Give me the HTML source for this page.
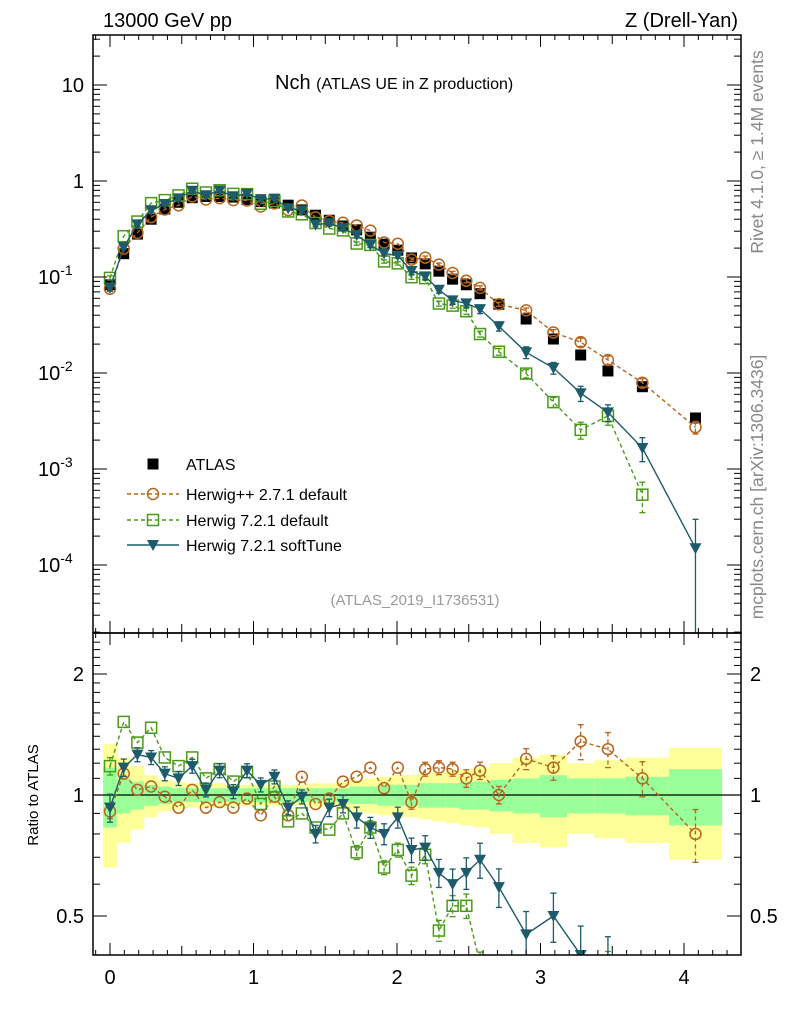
<!DOCTYPE html>
<html><head><meta charset="utf-8"><style>
html,body{margin:0;padding:0;background:#fff;overflow:hidden;width:786px;height:1024px;}
svg{display:block;}
svg text{font-family:"Liberation Sans",sans-serif;}
</style></head><body>
<svg id="c" width="786" height="1024" xmlns="http://www.w3.org/2000/svg"></svg>
<script>
const xVals=[0,0.0955,0.191,0.2865,0.382,0.4775,0.573,0.6685,0.764,0.8595,0.955,1.0505,1.146,1.2415,1.337,1.4325,1.528,1.6235,1.719,1.8145,1.91,2.0055,2.101,2.1965,2.292,2.3875,2.483,2.5785,2.71,2.9,3.09,3.28,3.47,3.71,4.08];
const atlas=[0.083,0.175,0.28,0.40,0.51,0.60,0.67,0.69,0.69,0.68,0.64,0.61,0.59,0.56,0.50,0.44,0.39,0.34,0.31,0.26,0.22,0.19,0.158,0.137,0.115,0.095,0.083,0.067,0.052,0.0365,0.0226,0.0154,0.0105,0.0072,0.0034];
const ratioHpp=[0.91,1.13,1.03,1.05,0.99,0.93,1.03,0.93,0.96,0.93,0.98,0.89,0.99,0.89,1.11,0.95,0.98,1.08,1.11,1.17,1.04,1.17,0.96,1.16,1.17,1.16,1.10,1.15,1.0,1.23,1.17,1.36,1.30,1.10,0.80];
const ratioH7=[1.18,1.52,1.35,1.47,1.24,1.18,1.24,1.10,1.16,1.08,1.14,0.95,1.05,0.86,0.90,0.83,0.82,0.90,0.72,0.83,0.66,0.73,0.63,0.71,0.46,0.53,0.53,0.38,0.32,0.27,0.22,0.166,0.34,0.075,null];
const ratioSoft=[0.93,1.17,1.26,1.24,1.13,1.10,1.18,1.03,1.15,1.02,1.15,1.06,1.11,0.93,0.99,0.80,0.93,0.95,0.88,0.83,0.80,0.88,0.73,0.74,0.64,0.60,0.64,0.69,0.59,0.45,0.50,0.40,0.37,0.23,0.044];
const errHpp=[0.04,0.03,0.03,0.03,0.03,0.03,0.03,0.03,0.03,0.03,0.03,0.03,0.03,0.03,0.03,0.03,0.03,0.03,0.03,0.03,0.03,0.03,0.04,0.04,0.04,0.04,0.05,0.05,0.05,0.06,0.07,0.1,0.1,0.1,0.15];
const errH7=[0.05,0.03,0.03,0.03,0.03,0.03,0.03,0.03,0.03,0.03,0.03,0.03,0.03,0.03,0.03,0.03,0.03,0.03,0.04,0.04,0.04,0.04,0.05,0.05,0.06,0.06,0.07,0.07,0.08,0.1,0.12,0.2,0.2,0.35,0];
const errSoft=[0.08,0.05,0.04,0.04,0.04,0.04,0.04,0.04,0.04,0.04,0.04,0.04,0.04,0.04,0.04,0.05,0.05,0.05,0.06,0.06,0.06,0.06,0.07,0.07,0.08,0.09,0.09,0.1,0.11,0.14,0.14,0.18,0.2,0.28,1.0];
const bandYellow=[0.34,0.24,0.18,0.12,0.09,0.08,0.07,0.07,0.07,0.06,0.06,0.06,0.06,0.06,0.06,0.07,0.07,0.08,0.09,0.1,0.11,0.12,0.12,0.13,0.14,0.15,0.16,0.17,0.2,0.24,0.26,0.2,0.22,0.24,0.31];
const bandGreen=[0.17,0.1,0.08,0.06,0.05,0.04,0.04,0.04,0.04,0.04,0.04,0.04,0.04,0.04,0.04,0.04,0.04,0.04,0.05,0.05,0.06,0.06,0.06,0.07,0.07,0.07,0.08,0.08,0.09,0.1,0.12,0.1,0.1,0.11,0.16];
const xTicks=[0,1,2,3,4];
const yTicksMain=[1,0,-1,-2,-3,-4];
const yTicksRatio=[2,1,0.5];

const S=document.getElementById('c');const NS="http://www.w3.org/2000/svg";
function el(t,a,p){const e=document.createElementNS(NS,t);for(const k in a)e.setAttribute(k,a[k]);(p||S).appendChild(e);return e;}
const L=93,R=741,MT=35,MB=633,RB=955;
const X=v=>110+v*143.5;
const YM=v=>181-96*Math.log10(v);
const YR=v=>795-121*Math.log2(v);
const edges=xVals.map((v,i)=>[i==0?v-(xVals[1]-v)/2:(v+xVals[i-1])/2, i==xVals.length-1?v+(v-xVals[i-1])/2:(v+xVals[i+1])/2]);

const defs=el('defs',{});
const c1=el('clipPath',{id:'cm'},defs);el('rect',{x:L,y:MT,width:R-L,height:MB-MT},c1);
const c2=el('clipPath',{id:'cr'},defs);el('rect',{x:L,y:MB,width:R-L,height:RB-MB},c2);
const gM=el('g',{'clip-path':'url(#cm)'});
const gR=el('g',{'clip-path':'url(#cr)'});

xVals.forEach((v,i)=>{const [a,b]=edges[i];
 const y=el('rect',{x:X(a),y:YR(1+bandYellow[i]),width:X(b)-X(a),height:YR(1-bandYellow[i])-YR(1+bandYellow[i]),fill:'#ffff99'},gR);
 
 const g=el('rect',{x:X(a),y:YR(1+bandGreen[i]),width:X(b)-X(a),height:YR(1-bandGreen[i])-YR(1+bandGreen[i]),fill:'#99ff99'},gR);
 });
el('line',{x1:L,x2:R,y1:YR(1),y2:YR(1),stroke:'#000','stroke-width':1.3},gR);

const series=[
 {r:ratioHpp,e:errHpp,c:'#b5651d',dash:'4,3',m:'circle',n:'herwigpp'},
 {r:ratioH7,e:errH7,c:'#4a9a1a',dash:'4,3',m:'square',n:'herwig721'},
 {r:ratioSoft,e:errSoft,c:'#1d5a6a',dash:'',m:'tri',n:'softtune'}];
function marker(g,m,x,y,c,name){let e;
 if(m=='circle')e=el('circle',{cx:x,cy:y,r:5.5,fill:'none',stroke:c,'stroke-width':1.5},g);
 else if(m=='square')e=el('rect',{x:x-5.5,y:y-5.5,width:11,height:11,fill:'none',stroke:c,'stroke-width':1.5},g);
 else if(m=='tri')e=el('path',{d:`M${x-6},${y-5}L${x+6},${y-5}L${x},${y+6}Z`,fill:c},g);
 else e=el('rect',{x:x-5.5,y:y-5.5,width:11,height:11,fill:'#000'},g);
 }
function ebar(g,x,y1,y2,c,dash){el('line',{x1:x,x2:x,y1:y1,y2:y2,stroke:c,'stroke-width':1.3,'stroke-dasharray':dash},g);
 el('line',{x1:x-3,x2:x+3,y1:y1,y2:y1,stroke:c,'stroke-width':1.3},g);el('line',{x1:x-3,x2:x+3,y1:y2,y2:y2,stroke:c,'stroke-width':1.3},g);}

atlas.forEach((v,i)=>marker(gM,'sq',X(xVals[i]),YM(v),'#000','atlas-point'));
series.forEach(s=>{
 let pm=[],pr=[];
 s.r.forEach((r,i)=>{if(r==null)return;const v=atlas[i]*r;pm.push([X(xVals[i]),YM(v)]);pr.push([X(xVals[i]),YR(r)]);});
 const lm=el('polyline',{points:pm.map(p=>p.join(',')).join(' '),fill:'none',stroke:s.c,'stroke-width':1.4,'stroke-dasharray':s.dash},gM);
 
 const lr=el('polyline',{points:pr.map(p=>p.join(',')).join(' '),fill:'none',stroke:s.c,'stroke-width':1.4,'stroke-dasharray':s.dash},gR);
 
 s.r.forEach((r,i)=>{if(r==null)return;const x=X(xVals[i]),v=atlas[i]*r,e=s.e[i];
  if(e>0.035){ebar(gM,x,YM(v*(1+e)),YM(Math.max(v*(1-e),1e-7)),s.c,s.dash);ebar(gR,x,YR(r*(1+e)),YR(Math.max(r*(1-e),0.01)),s.c,s.dash);}
  marker(gM,s.m,x,YM(v),s.c,s.n+'-point');marker(gR,s.m,x,YR(r),s.c,s.n+'-ratio-point');});
});

const f1=el('rect',{x:L,y:MT,width:R-L,height:MB-MT,fill:'none',stroke:'#000','stroke-width':1.5});

const f2=el('rect',{x:L,y:MB,width:R-L,height:RB-MB,fill:'none',stroke:'#000','stroke-width':1.5});


function txt(x,y,s,o){const t=el('text',Object.assign({x:x,y:y,'font-size':20},o||{}));t.textContent=s;return t;}
for(let k=-1;k<=44;k++){const v=k/10,x=X(v);if(x<L||x>R)continue;const big=k%10==0,mid=k%5==0;
 const len=big?12:(mid?9:5);
 [MT,MB].forEach(yb=>{el('line',{x1:x,x2:x,y1:yb,y2:yb+len,stroke:'#000'});});
 [MB,RB].forEach(yb=>{el('line',{x1:x,x2:x,y1:yb,y2:yb-len,stroke:'#000'});});}
xTicks.forEach(v=>{const t=txt(X(v),984,String(v),{'text-anchor':'middle'});});
for(let d=-5;d<=1;d++)for(let m=1;m<10;m++){const y=YM(m*Math.pow(10,d));if(y<MT||y>MB)continue;const len=m==1?14:7;
 el('line',{x1:L,x2:L+len,y1:y,y2:y,stroke:'#000'});el('line',{x1:R,x2:R-len,y1:y,y2:y,stroke:'#000'});}
txt(84,92,'10',{'text-anchor':'end'});
txt(84,188,'1',{'text-anchor':'end'});
yTicksMain.filter(d=>d<0).forEach(d=>{const t=el('text',{x:38,y:YM(Math.pow(10,d))+7,'font-size':20});
 
 t.innerHTML='10<tspan dy="-9" font-size="14">'+d+'</tspan>';});
for(let v=0.4;v<=2.5;v+=0.1){const y=YR(v);if(y<MB||y>RB)continue;const big=Math.abs(v-1)<0.01||Math.abs(v-2)<0.01||Math.abs(v-0.5)<0.01;const len=big?14:7;
 el('line',{x1:L,x2:L+len,y1:y,y2:y,stroke:'#000'});el('line',{x1:R,x2:R-len,y1:y,y2:y,stroke:'#000'});}
yTicksRatio.forEach(v=>{const y=YR(v)+7;
 const a=txt(84,y,String(v),{'text-anchor':'end'});
 const b=txt(750,y,String(v));});

txt(103,27,'13000 GeV pp');
txt(738,27,'Z (Drell-Yan)',{'text-anchor':'end'});
const tt=el('text',{x:275,y:89,'font-size':20});
tt.innerHTML='Nch <tspan font-size="16">(ATLAS UE in Z production)</tspan>';
txt(415,605,'(ATLAS_2019_I1736531)',{'text-anchor':'middle','font-size':15,fill:'#999'});
txt(38,795,'Ratio to ATLAS',{'text-anchor':'middle','font-size':15,transform:'rotate(-90 38 795)'});
txt(763,152,'Rivet 4.1.0, \u2265 1.4M events',{'text-anchor':'middle','font-size':17.5,fill:'#888',transform:'rotate(-90 763 152)'});
txt(763,487,'mcplots.cern.ch [arXiv:1306.3436]',{'text-anchor':'middle','font-size':17.5,fill:'#888',transform:'rotate(-90 763 487)'});

const lg=el('g',{});
marker(lg,'sq',153,464,'#000','legend-atlas-marker');
const ent=[['ATLAS',null],['Herwig++ 2.7.1 default',series[0]],['Herwig 7.2.1 default',series[1]],['Herwig 7.2.1 softTune',series[2]]];
const ly=[464,494,520,545];
ent.forEach((e,i)=>{if(e[1]){const s=e[1];el('line',{x1:127,x2:179,y1:ly[i],y2:ly[i],stroke:s.c,'stroke-width':1.4,'stroke-dasharray':s.dash},lg);marker(lg,s.m,153,ly[i],s.c,'legend-marker');}
 const t=el('text',{x:186,y:ly[i]+6,'font-size':16},lg);t.textContent=e[0];});
</script>
</body></html>
